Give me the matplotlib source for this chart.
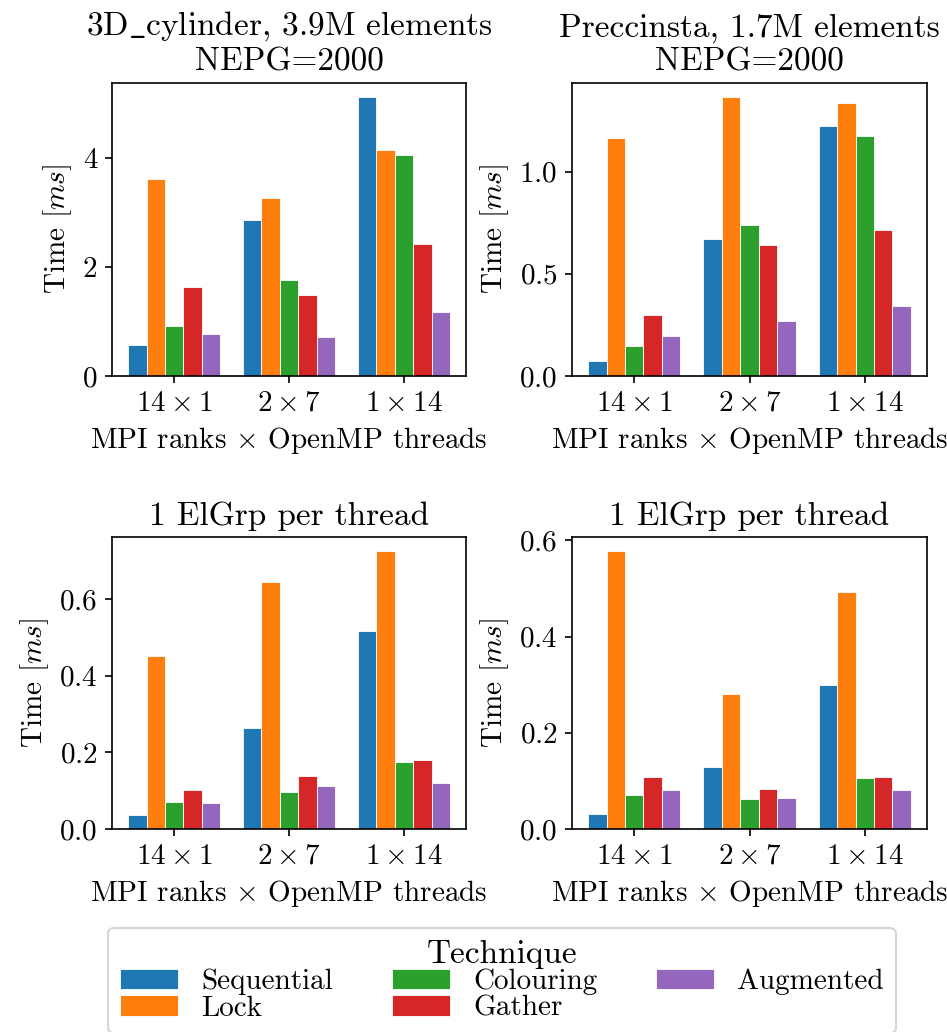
import numpy as np
import matplotlib
matplotlib.use('Agg')
import matplotlib.pyplot as plt

plt.rcParams['font.family'] = 'serif'
plt.rcParams['font.serif'] = ['cmr10']
plt.rcParams['mathtext.fontset'] = 'cm'
plt.rcParams['axes.formatter.use_mathtext'] = True
plt.rcParams['font.size'] = 14

configs = [r'$14\times1$', r'$2\times7$', r'$1\times14$']
techniques = ['Sequential', 'Lock', 'Colouring', 'Gather', 'Augmented']
colors = ['#1f77b4', '#ff7f0e', '#2ca02c', '#d62728', '#9467bd']

# rows: configs, cols: techniques
cyl_nepg = [[0.57, 3.60, 0.92, 1.62, 0.76],
            [2.86, 3.25, 1.75, 1.49, 0.71],
            [5.11, 4.13, 4.05, 2.41, 1.18]]
prec_nepg = [[0.072, 1.165, 0.148, 0.300, 0.197],
             [0.671, 1.366, 0.740, 0.642, 0.267],
             [1.225, 1.334, 1.174, 0.715, 0.344]]
cyl_elgrp = [[0.036, 0.451, 0.071, 0.101, 0.068],
             [0.263, 0.643, 0.096, 0.137, 0.112],
             [0.517, 0.725, 0.174, 0.179, 0.120]]
prec_elgrp = [[0.032, 0.578, 0.070, 0.109, 0.081],
              [0.129, 0.280, 0.063, 0.083, 0.065],
              [0.299, 0.493, 0.107, 0.109, 0.081]]

titles = ['3D$\\_$cylinder, 3.9M elements\nNEPG=2000',
          'Preccinsta, 1.7M elements\nNEPG=2000',
          '1 ElGrp per thread',
          '1 ElGrp per thread']
yticks = [[0, 2, 4], [0.0, 0.5, 1.0], [0.0, 0.2, 0.4, 0.6], [0.0, 0.2, 0.4, 0.6]]
data = [cyl_nepg, prec_nepg, cyl_elgrp, prec_elgrp]

fig = plt.figure(figsize=(947/150, 1032/150), dpi=150)
positions = [[0.1183, 0.6357, 0.3738, 0.2839],
             [0.6040, 0.6357, 0.3749, 0.2839],
             [0.1183, 0.1967, 0.3738, 0.2829],
             [0.6040, 0.1967, 0.3749, 0.2829]]

x = np.arange(len(configs))
w = 0.16
for k in range(4):
    ax = fig.add_axes(positions[k])
    vals = np.array(data[k])
    for j, t in enumerate(techniques):
        ax.bar(x + (j - 2) * w, vals[:, j], w, color=colors[j], label=t,
               edgecolor='white', linewidth=0.4)
    ax.set_xticks(x)
    ax.set_xticklabels(configs)
    ax.set_yticks(yticks[k])
    if k == 0:
        ax.set_yticklabels(['0', '2', '4'])
    ax.set_title(titles[k], fontsize=16)
    ax.set_xlabel(r'MPI ranks $\times$ OpenMP threads')
    ax.set_ylabel(r'Time [$ms$]')
    if k == 0:
        handles, labels = ax.get_legend_handles_labels()

fig.legend(handles, labels, title='Technique', ncol=3, loc='upper center',
           bbox_to_anchor=(0.53, 1 - 928/1032), fontsize=14, title_fontsize=16,
           labelspacing=0.0, borderaxespad=0.0)
fig.savefig('out.png', dpi=150)
